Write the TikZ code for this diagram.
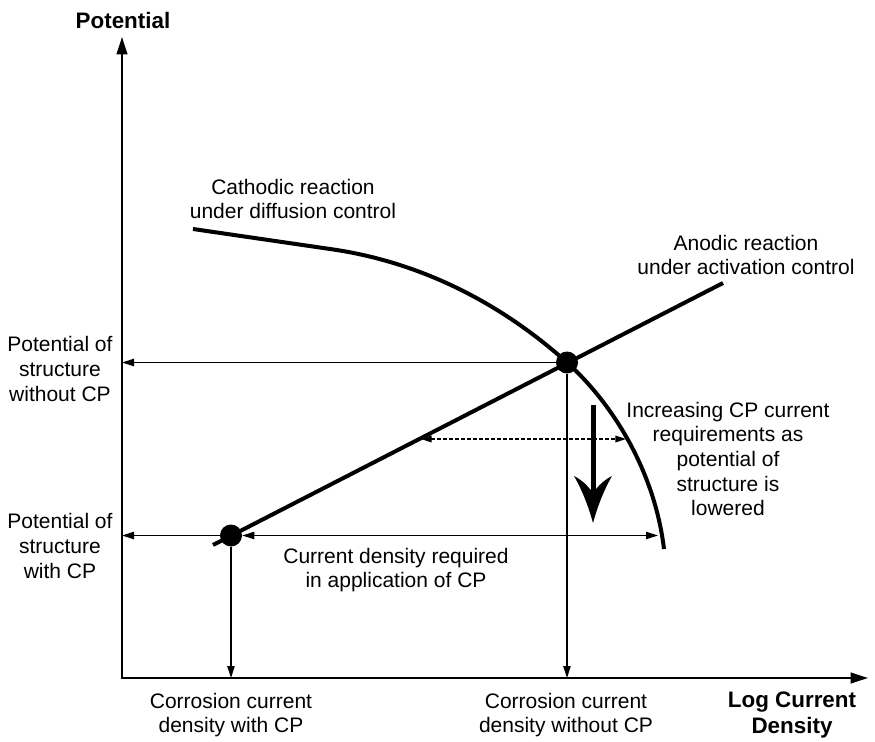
\documentclass[tikz,border=0pt]{standalone}
\usepackage{fontspec}
\setmainfont{Liberation Sans}
\usetikzlibrary{arrows.meta}
\begin{document}
\begin{tikzpicture}[x=0.75pt,y=-0.75pt,
  lbl/.style={align=center,inner sep=0pt,font=\fontsize{15.75}{18.4}\selectfont},
  blbl/.style={align=center,inner sep=0pt,font=\fontsize{16.8}{19}\selectfont\bfseries},
  axisline/.style={line width=1.5pt,{Triangle[length=13pt,width=8pt]}-{Triangle[length=13pt,width=8pt]}},
  thinarr/.style={line width=0.9pt,-{Triangle[length=9pt,width=5.5pt]}},
  thinboth/.style={line width=0.9pt,{Triangle[length=9pt,width=5.5pt]}-{Triangle[length=9pt,width=5.5pt]}},
  dotarr/.style={line width=1pt,dash pattern=on 2.5pt off 2pt,{Triangle[length=8pt,width=5pt]}-{Triangle[length=8pt,width=5pt]}},
  thickline/.style={line width=3pt},
  dot/.style={circle,fill=black,inner sep=0pt,minimum size=16.5pt}]
\useasboundingbox (0,0) rectangle (875,742);

% axes
\coordinate (O) at (122,678);
\coordinate (Ytip) at (122,37);
\coordinate (Xtip) at (868,678);
\draw[axisline] (Ytip) -- (O) -- (Xtip);

% intersection points
\node[dot] (P1) at (567,362.5) {};
\node[dot] (P2) at (231,535.5) {};

% thin projection lines
\draw[thinarr] (P1) -- (P1 -| O);
\draw[thinarr] (P1) -- (P1 |- O);
\draw[thinarr] (P2) -- (P2 -| O);
\draw[thinarr] (P2) -- (P2 |- O);
\coordinate (cdR) at (658,535.5);
\draw[thinboth] (P2) -- (cdR);

% dotted arrow
\coordinate (dL) at (421,439);
\coordinate (dR) at (626,439);
\draw[dotarr] (dL) -- (dR);

% anodic line
\coordinate (aS) at (213,545);
\coordinate (aE) at (723,283);
\draw[thickline] (aS) -- (aE);

% cathodic curve
\coordinate (cS) at (193,229);
\coordinate (cK) at (330,249);
\coordinate (cE) at (664,549);
\draw[thickline] (cS) -- (cK)
  .. controls (419.1,261.5) and (500.1,302.3) .. (P1.center)
  .. controls (611.6,402.6) and (654.4,469.6) .. (cE);

% big down arrow
\coordinate (bT) at (593,405);
\coordinate (bH) at (593,523);
\draw[line width=3.75pt] (bT) -- (593,494);
\fill (bH) .. controls (588,505) and (582,490) .. (574,476)
  .. controls (582,480) and (588,486) .. (593,493)
  .. controls (598,486) and (604,480) .. (612,476)
  .. controls (604,490) and (598,505) .. (bH) -- cycle;

% texts
\node[blbl] (tPot) at (123,20) {Potential};
\node[lbl] (tCat) at (293,199) {Cathodic reaction\\under diffusion control};
\node[lbl] (tAn) at (746,255) {Anodic reaction\\under activation control};
\node[lbl] (tPw) at (60,369) {Potential of\\structure\\without CP};
\node[lbl] (tPc) at (60,546) {Potential of\\structure\\with CP};
\node[lbl] (tInc) at (728,459) {Increasing CP current\\requirements as\\potential of\\structure is\\lowered};
\node[lbl] (tCd) at (396,570) {Current density required\\in application of CP};
\node[lbl] (tCw) at (231,715) {Corrosion current\\density with CP};
\node[lbl] (tCwo) at (566,715) {Corrosion current\\density without CP};
\node[blbl] (tLog) at (792,715) {Log Current\\Density};
\end{tikzpicture}
\end{document}
